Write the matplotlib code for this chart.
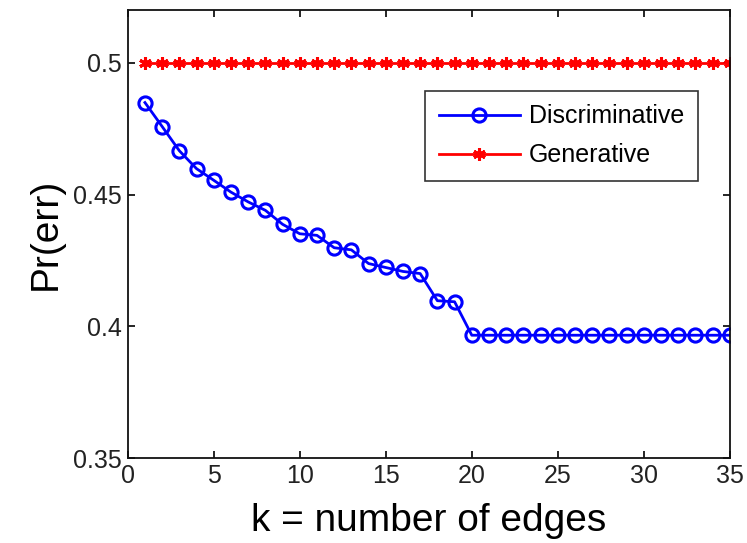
import numpy as np
from matplotlib import pyplot as plt

plt.rcParams['font.family'] = ['Liberation Sans', 'DejaVu Sans']

## data
k = np.arange(1, 36)
pr_discriminative = [0.4849, 0.4758, 0.4666, 0.4598, 0.4554, 0.4509, 0.4472, 0.4440,
                     0.4387, 0.4351, 0.4345, 0.4298, 0.4290, 0.4238, 0.4223, 0.4208,
                     0.4200, 0.4097, 0.4093, 0.3966, 0.3966, 0.3966, 0.3966, 0.3966,
                     0.3966, 0.3966, 0.3966, 0.3966, 0.3966, 0.3966, 0.3966, 0.3966,
                     0.3966, 0.3966, 0.3966]
pr_generative = [0.5] * 35
xticks = [0, 5, 10, 15, 20, 25, 30, 35]
yticks = [0.35, 0.4, 0.45, 0.5]
ytick_labels = ['0.35', '0.4', '0.45', '0.5']

fig = plt.figure(figsize=(7.47, 5.43), dpi=100)
ax = fig.add_axes([0.171, 0.1565, 0.806, 0.825])

ax.plot(k, pr_discriminative, color='#0000ff', lw=2, marker='o', markersize=9.5,
        markerfacecolor='none', markeredgewidth=2.2, label='Discriminative')
ax.plot(k, pr_generative, color='#ff0000', lw=2, marker=(6, 2, 0), markersize=9,
        markeredgewidth=2.2, label='Generative')

ax.set_xlim(0, 35)
ax.set_ylim(0.35, 0.52)
ax.set_xticks(xticks)
ax.set_yticks(yticks)
ax.set_yticklabels(ytick_labels)
ax.tick_params(direction='in', top=True, right=True, length=5, width=1.2,
               labelsize=18, labelcolor='#222222', pad=4)
for s in ax.spines.values():
    s.set_linewidth(1.3)
    s.set_color('#111111')

ax.set_xlabel('k = number of edges', fontsize=28, labelpad=11)
ax.set_ylabel('Pr(err)', fontsize=28, labelpad=7)

leg = ax.legend(loc='upper right', bbox_to_anchor=(0.947, 0.82), fontsize=18,
                frameon=True, fancybox=False, edgecolor='black', borderpad=0.55,
                borderaxespad=0, handlelength=3.24, handletextpad=0.37,
                labelspacing=0.6)
leg.get_frame().set_linewidth(1.2)

fig.savefig('out.png', dpi=100)
